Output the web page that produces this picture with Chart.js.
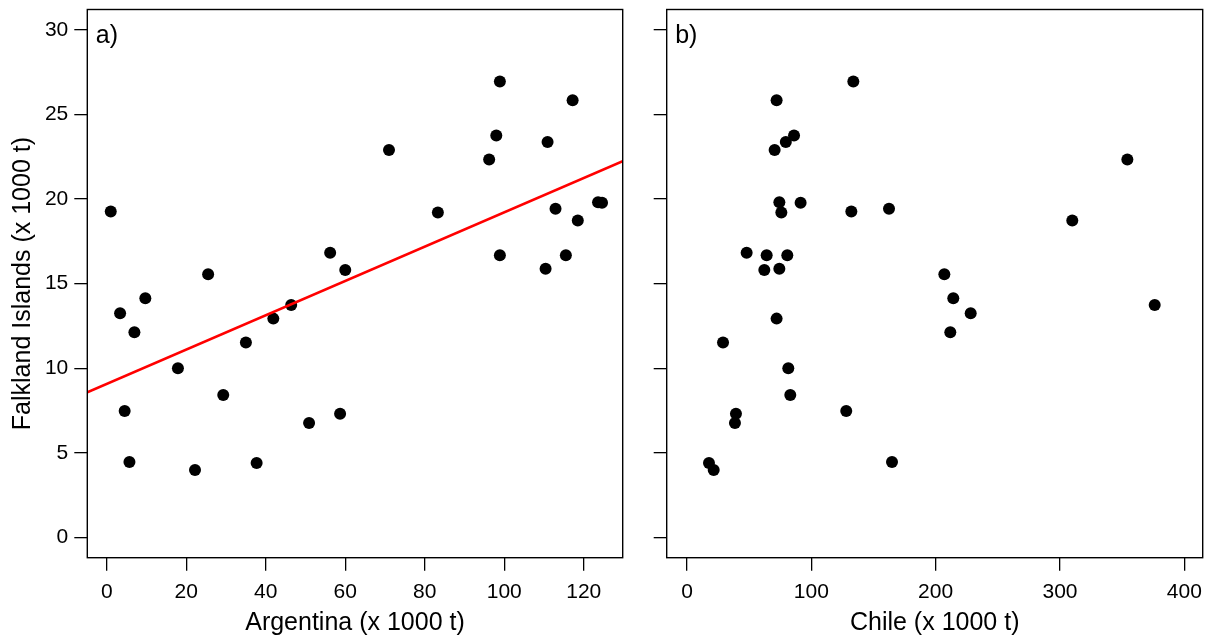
<!DOCTYPE html>
<html>
<head>
<meta charset="utf-8">
<script src="https://cdn.jsdelivr.net/npm/chart.js@4/dist/chart.umd.min.js"></script>
<style>
  html, body { margin: 0; padding: 0; background: #fff; }
  #wrap { position: relative; width: 1211px; height: 640px; }
  canvas { position: absolute; top: 0; }
  #c1 { left: 0; }
  #c2 { left: 640px; }
</style>
</head>
<body>
<div id="wrap">
  <canvas id="c1" width="640" height="640"></canvas>
  <canvas id="c2" width="571" height="640"></canvas>
</div>
<script>
// ---- Data (x 1000 t) ----
const falkland  = [19.26, 13.25, 14.13, 15.55, 22.9, 16.82, 15.8, 13.74, 12.93, 12.13, 10.0, 11.52, 7.47, 4.46, 3.99, 8.41, 4.40, 6.76, 7.31, 26.95, 25.84, 23.76, 23.37, 22.33, 19.2, 19.42, 18.73, 19.81, 19.78, 16.67, 16.67, 15.88];
const argentina = [1.0, 3.35, 9.7, 25.5, 71.0, 56.2, 60.0, 46.4, 41.9, 6.95, 17.9, 35.0, 4.5, 5.7, 22.2, 29.3, 37.7, 50.9, 58.7, 98.9, 117.2, 98.0, 110.9, 96.2, 83.3, 112.9, 118.5, 123.6, 124.6, 98.9, 115.5, 110.4];
const chile     = [132.2, 228.2, 214.2, 207.0, 70.5, 48.0, 62.2, 376.2, 72.1, 211.8, 81.5, 29.0, 128.1, 164.9, 21.5, 83.1, 17.7, 38.6, 39.4, 133.8, 72.1, 86.1, 79.5, 354.2, 75.9, 162.5, 309.9, 74.3, 91.4, 64.1, 80.7, 74.3];

// regression line (Falkland ~ Argentina)
const fitIntercept = 9.07;
const fitSlope = 0.1014;

// ticks and limits
const yTicks = [0, 5, 10, 15, 20, 25, 30];
const argTicks = [0, 20, 40, 60, 80, 100, 120];
const chileTicks = [0, 100, 200, 300, 400];
const yLimits = [-1.2, 31.2];
const argLimits = [-4.9, 129.8];
const chileLimits = [-16.3, 414.8];

const panelLabels = ['a)', 'b)'];
const yTitle = 'Falkland Islands (x 1000 t)';
const xTitles = ['Argentina (x 1000 t)', 'Chile (x 1000 t)'];

const FONT = "'Liberation Sans', Arial, Helvetica, sans-serif";

const boxPlugin = {
  id: 'box',
  afterDraw(chart, args, opts) {
    const {ctx, chartArea: a} = chart;
    ctx.save();
    ctx.strokeStyle = '#000';
    ctx.lineWidth = 1.4;
    ctx.strokeRect(a.left, a.top, a.right - a.left, a.bottom - a.top);
    ctx.fillStyle = '#000';
    ctx.font = '25px ' + FONT;
    ctx.textBaseline = 'alphabetic';
    ctx.textAlign = 'left';
    ctx.fillText(opts.label, a.left + 8.5, 43);
    ctx.restore();
  }
};

function makeChart(id, xs, xTicks, xLim, xTitle, label, isLeft) {
  const points = xs.map((x, i) => ({x: x, y: falkland[i]}));
  const datasets = [{
    type: 'scatter',
    data: points,
    pointRadius: 6,
    pointHoverRadius: 6,
    pointBackgroundColor: '#000',
    pointBorderColor: '#000',
    pointBorderWidth: 0,
    order: 2
  }];
  if (isLeft) {
    datasets.push({
      type: 'line',
      data: [
        {x: xLim[0], y: fitIntercept + fitSlope * xLim[0]},
        {x: xLim[1], y: fitIntercept + fitSlope * xLim[1]}
      ],
      borderColor: '#ff0000',
      borderWidth: 2.6,
      pointRadius: 0,
      fill: false,
      tension: 0,
      order: 1
    });
  }
  const yAxisW = isLeft ? 87.3 : 26.7;
  const rightPad = isLeft ? 640 - 622.7 : 571 - 562.7;
  return new Chart(document.getElementById(id), {
    data: { datasets },
    plugins: [boxPlugin],
    options: {
      responsive: false,
      animation: false,
      devicePixelRatio: 1,
      layout: { padding: { left: 0, right: rightPad, top: 9.5, bottom: 0 } },
      plugins: {
        legend: { display: false },
        tooltip: { enabled: false },
        box: { label: label }
      },
      scales: {
        x: {
          type: 'linear',
          position: 'bottom',
          min: xLim[0], max: xLim[1],
          afterBuildTicks: s => { s.ticks = xTicks.map(v => ({value: v})); },
          afterFit: s => { s.height = 640 - 557.7; s.paddingLeft = 0; s.paddingRight = 0; },
          grid: { drawOnChartArea: false, drawTicks: true, tickLength: 13, color: '#000', lineWidth: 1.3 },
          border: { display: false },
          ticks: { color: '#000', font: { family: FONT, size: 21 }, padding: 9, maxRotation: 0, autoSkip: false },
          title: { display: true, text: xTitle, color: '#000', font: { family: FONT, size: 25 }, padding: { top: 0, bottom: 2 } }
        },
        y: {
          type: 'linear',
          position: 'left',
          min: yLimits[0], max: yLimits[1],
          afterBuildTicks: s => { s.ticks = yTicks.map(v => ({value: v})); },
          afterFit: s => { s.width = yAxisW; s.paddingTop = 0; s.paddingBottom = 0; },
          grid: { drawOnChartArea: false, drawTicks: true, tickLength: 13, color: '#000', lineWidth: 1.3 },
          border: { display: false },
          ticks: { display: isLeft, color: '#000', font: { family: FONT, size: 21 }, padding: 6, autoSkip: false },
          title: { display: isLeft, text: yTitle, color: '#000', font: { family: FONT, size: 25 }, padding: { top: 8, bottom: 0 } }
        }
      }
    }
  });
}

makeChart('c1', argentina, argTicks, argLimits, xTitles[0], panelLabels[0], true);
makeChart('c2', chile, chileTicks, chileLimits, xTitles[1], panelLabels[1], false);
</script>
</body>
</html>
